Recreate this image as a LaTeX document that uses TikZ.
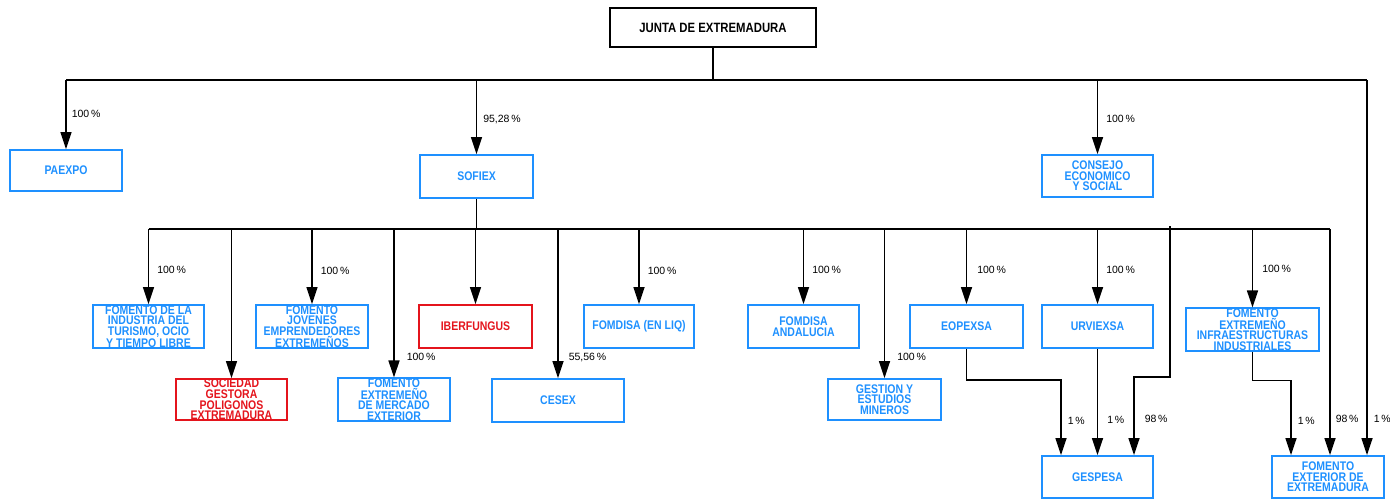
\documentclass[tikz,border=0pt]{standalone}
\usepackage{fontspec}
\setmainfont{Liberation Sans}
\newfontfamily\narrowfont[FakeStretch=0.84]{Liberation Sans}
\usetikzlibrary{arrows.meta,positioning}
\definecolor{orgblue}{RGB}{30,144,255}
\definecolor{orgred}{RGB}{228,20,28}

\begin{document}
\begin{tikzpicture}[x=1pt,y=-1pt]
            \tikzstyle{entity}=[rectangle,draw,line width=1.8pt,inner sep=0pt,align=center,font=\narrowfont\bfseries\fontsize{12.5}{10.6}\selectfont]
            \tikzstyle{pct}=[anchor=west,inner sep=0pt,font=\fontsize{10.5}{12}\selectfont]
            \tikzstyle{bus}=[line width=1.5pt]
            \tikzstyle{link}=[bus,-{Triangle[length=17pt,width=11pt]}]

            \tikzstyle{J}=[entity,draw=black,text=black,font=\narrowfont\bfseries\fontsize{13.5}{15}\selectfont] % government
            \tikzstyle{B}=[entity,draw=orgblue,text=orgblue]  % company
            \tikzstyle{R}=[entity,draw=orgred,text=orgred]    % highlighted company

            \useasboundingbox (0,0) rectangle (1390,499);

            \node[J,minimum width=206,minimum height=39] (0) at (713,27.5) {JUNTA DE EXTREMADURA};

            \node[B,minimum width=112,minimum height=41] (1) at (66,170.5) {PAEXPO};
            \node[B,minimum width=113,minimum height=43] (2) at (476.5,176.5) {SOFIEX};
            \node[B,minimum width=111,minimum height=42] (3) at (1097.5,176) {CONSEJO\\ECONOMICO\\Y SOCIAL};

            \node[B,minimum width=111,minimum height=43] (4) at (148.5,326.5) {FOMENTO DE LA\\INDUSTRIA DEL\\TURISMO, OCIO\\Y TIEMPO LIBRE};
            \node[R,minimum width=111,minimum height=41] (5) at (231.5,399.5) {SOCIEDAD\\GESTORA\\POLIGONOS\\EXTREMADURA};
            \node[B,minimum width=112,minimum height=43] (6) at (312,326.5) {FOMENTO\\JOVENES\\EMPRENDEDORES\\EXTREMEÑOS};
            \node[B,minimum width=112,minimum height=41] (7) at (394,399.5) {FOMENTO\\EXTREMEÑO\\DE MERCADO\\EXTERIOR};
            \node[R,minimum width=113,minimum height=43] (8) at (475.5,326.5) {IBERFUNGUS};
            \node[B,minimum width=132,minimum height=43] (9) at (558,400.5) {CESEX};
            \node[B,minimum width=110,minimum height=43] (10) at (639,326.5) {FOMDISA (EN LIQ)};
            \node[B,minimum width=111,minimum height=43] (11) at (803.5,326.5) {FOMDISA\\ANDALUCIA};
            \node[B,minimum width=113,minimum height=41] (12) at (884.5,399.5) {GESTION Y\\ESTUDIOS\\MINEROS};
            \node[B,minimum width=113,minimum height=43] (13) at (966.5,326.5) {EOPEXSA};
            \node[B,minimum width=111,minimum height=43] (14) at (1097.5,326.5) {URVIEXSA};
            \node[B,minimum width=133,minimum height=41] (15) at (1252.5,329.5) {FOMENTO\\EXTREMEÑO\\INFRAESTRUCTURAS\\INDUSTRIALES};
            \node[B,minimum width=111,minimum height=42] (16) at (1097.5,477) {GESPESA};
            \node[B,minimum width=112,minimum height=42] (17) at (1328,477) {FOMENTO\\EXTERIOR DE\\EXTREMADURA};

            % top level bus
            \coordinate (t0) at (66,80);
            \coordinate (t1) at (1367,80);
            \draw[bus] (0) -- (0 |- t0);
            \draw[bus] (t0) -- (t1);
            \draw[link] (t0) -- node[pct,pos=0.49,xshift=5] (p1) {100\,\%} (1);
            \draw[link] (2 |- t0) -- node[pct,pos=0.53,xshift=6] (p2) {95,28\,\%} (2);
            \draw[link] (3 |- t0) -- node[pct,pos=0.53,xshift=8] (p3) {100\,\%} (3);
            \draw[link] (t1) -- node[pct,pos=0.904,xshift=6] (p17c) {1\,\%} (t1 |- 17.north);

            % SOFIEX bus
            \coordinate (s0) at (148.5,229);
            \coordinate (s1) at (1330,229);
            \coordinate (s98) at (1170,226);
            \draw[bus] (2) -- (2 |- s0);
            \draw[bus] (s0) -- (s1);
            \draw[link] (s0) -- node[pct,pos=0.54,xshift=8] (p4) {100\,\%} (4);
            \draw[link] (5 |- s0) -- (5);
            \draw[link] (6 |- s0) -- node[pct,pos=0.56,xshift=8] (p6) {100\,\%} (6);
            \draw[link] (7 |- s0) -- node[pct,pos=0.86,xshift=12] (p7) {100\,\%} (7);
            \draw[link] (8 |- s0) -- (8);
            \draw[link] (9 |- s0) -- node[pct,pos=0.86,xshift=10] (p9) {55,56\,\%} (9);
            \draw[link] (10 |- s0) -- node[pct,pos=0.56,xshift=8] (p10) {100\,\%} (10);
            \draw[link] (11 |- s0) -- node[pct,pos=0.54,xshift=8] (p11) {100\,\%} (11);
            \draw[link] (12 |- s0) -- node[pct,pos=0.86,xshift=12] (p12) {100\,\%} (12);
            \draw[link] (13 |- s0) -- node[pct,pos=0.54,xshift=10] (p13) {100\,\%} (13);
            \draw[link] (14 |- s0) -- node[pct,pos=0.54,xshift=8] (p14) {100\,\%} (14);
            \draw[link] (15 |- s0) -- node[pct,pos=0.51,xshift=9] (p15) {100\,\%} (15);
            \draw[link] (s1) -- node[pct,pos=0.84,xshift=5] (p17b) {98\,\%} (s1 |- 17.north);

            % GESPESA and FOMENTO EXTERIOR
            \draw[link] (13.south) -- ++(0,31) -| node[pct,pos=0.77,xshift=6] (p16a) {1\,\%} ([xshift=-36.5]16.north);
            \draw[link] (14) -- node[pct,pos=0.67,xshift=9] (p16b) {1\,\%} (16);
            \draw[link] (s98) -- ++(0,151) -| node[pct,pos=0.77,xshift=10] (p16c) {98\,\%} ([xshift=36.5]16.north);
            \draw[link] (15.south) -- ++(0,29) -| node[pct,pos=0.77,xshift=6] (p17a) {1\,\%} ([xshift=-37]17.north);
        \end{tikzpicture}
\end{document}
